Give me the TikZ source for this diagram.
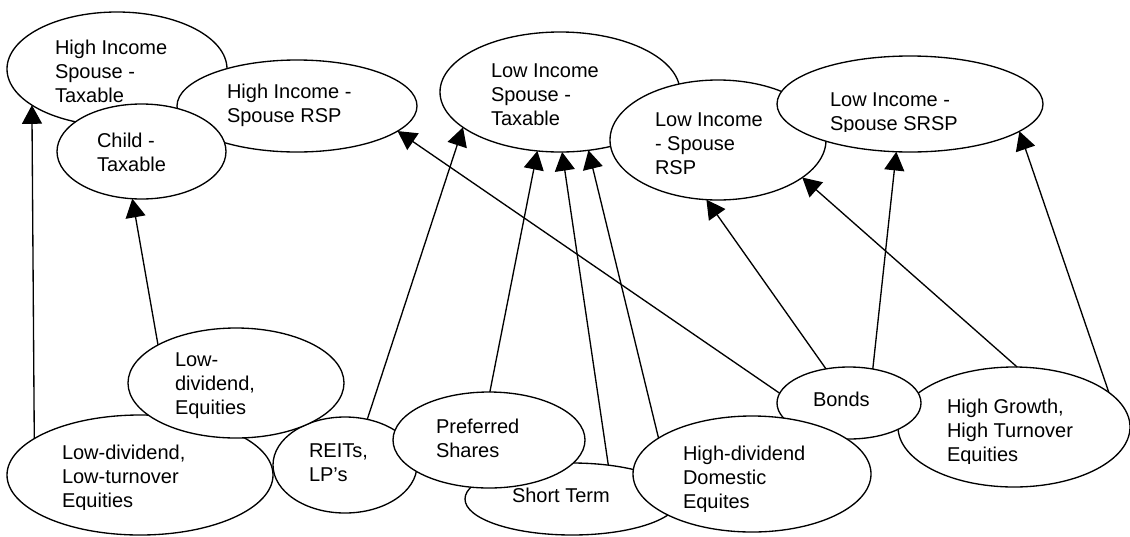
\documentclass[tikz,border=0pt]{standalone}
\usepackage{fontspec}
\setmainfont{Liberation Sans}
\usetikzlibrary{arrows.meta,shapes.geometric}
\newcommand{\mylines}[1]{\begin{tabular}[t]{@{}l@{}}#1\end{tabular}}
\begin{document}
\begin{tikzpicture}[x=0.75pt,y=-0.75pt,
  ell/.style args={#1/#2}{ellipse, draw=black, fill=white, line width=1pt,
    minimum width=#1*1.5pt, minimum height=#2*1.5pt, inner sep=0pt, outer sep=0pt},
  lbl/.style={anchor=base west, inner sep=0pt, outer sep=0pt, font=\fontsize{15}{18}\selectfont},
  arr/.style={line width=1pt, -{Triangle[length=14pt,width=15pt]}}]
\useasboundingbox (0,0) rectangle (1130,536);

% top row
\node[ell=110/57] (hist) at (117,69) {};
\node[lbl] (thist) at (55,54) {\mylines{High Income\\Spouse -\\Taxable}};
\node[ell=120/46] (hisrsp) at (297,106) {};
\node[lbl] (thisrsp) at (227,98) {\mylines{High Income -\\Spouse RSP}};
\node[ell=84.5/47.5] (child) at (141.5,151.5) {};
\node[lbl] (tchild) at (97,147) {\mylines{Child -\\Taxable}};
\node[ell=120/60] (list) at (560,92) {};
\node[lbl] (tlist) at (491,77) {\mylines{Low Income\\Spouse -\\Taxable}};
\node[ell=108/60] (lisrsp) at (718,140) {};
\node[lbl] (tlisrsp) at (655,126) {\mylines{Low Income\\- Spouse\\RSP}};
\node[ell=133/48] (lissrsp) at (910,104) {};
\begin{scope}
\clip (820,70) rectangle (1040,131);
\node[lbl] (tlissrsp) at (830,106) {\mylines{Low Income -\\Spouse SRSP}};
\end{scope}

% bottom row
\node[ell=133/60] (ldlt) at (140,475) {};
\begin{scope}
\clip (50,430) rectangle (260,509);
\node[lbl] (tldlt) at (62,459) {\mylines{Low-dividend,\\Low-turnover\\Equities}};
\end{scope}
\node[ell=72/48] (reits) at (345,465) {};
\node[lbl] (treits) at (309,457) {\mylines{REITs,\\LP's}};
\node[ell=108/55] (lde) at (236,383) {};
\node[lbl] (tlde) at (175,366) {\mylines{Low-\\dividend,\\Equities}};
\node[ell=107/36] (short) at (572,499) {};
\node[lbl] (tshort) at (512,502) {Short Term};
\node[ell=96/48] (pref) at (489,440) {};
\node[lbl] (tpref) at (436,433) {\mylines{Preferred\\Shares}};
\node[ell=116/60] (hg) at (1014,427) {};
\begin{scope}
\clip (940,380) rectangle (1125,463);
\node[lbl] (thg) at (947,413) {\mylines{High Growth,\\High Turnover\\Equities}};
\end{scope}
\node[ell=72/36] (bonds) at (849,403) {};
\node[lbl] (tbonds) at (813,406) {Bonds};
\node[ell=119/58] (hdde) at (752,474) {};
\begin{scope}
\clip (675,430) rectangle (870,511);
\node[lbl] (thdde) at (683,460) {\mylines{High-dividend\\Domestic\\Equites}};
\end{scope}

% connectors
\draw[arr] (ldlt.161.4) -- (hist.203.2);
\draw[arr] (lde.154.5) -- (child.259);
\draw[arr] (reits.64.4) -- (list.200.8);
\draw[arr] (bonds.172.8) -- (hisrsp.346.2);
\draw[arr] (pref.89) -- (list.249);
\draw[arr] (short.43.4) -- (list.272.8);
\draw[arr] (hdde.159.6) -- (list.296.2);
\draw[arr] (bonds.124.4) -- (lisrsp.259.8);
\draw[arr] (bonds.55.6) -- (lissrsp.254.1);
\draw[arr] (hg.87) -- (lisrsp.336.2);
\draw[arr] (hg.20.7) -- (lissrsp.346.5);
\end{tikzpicture}
\end{document}
